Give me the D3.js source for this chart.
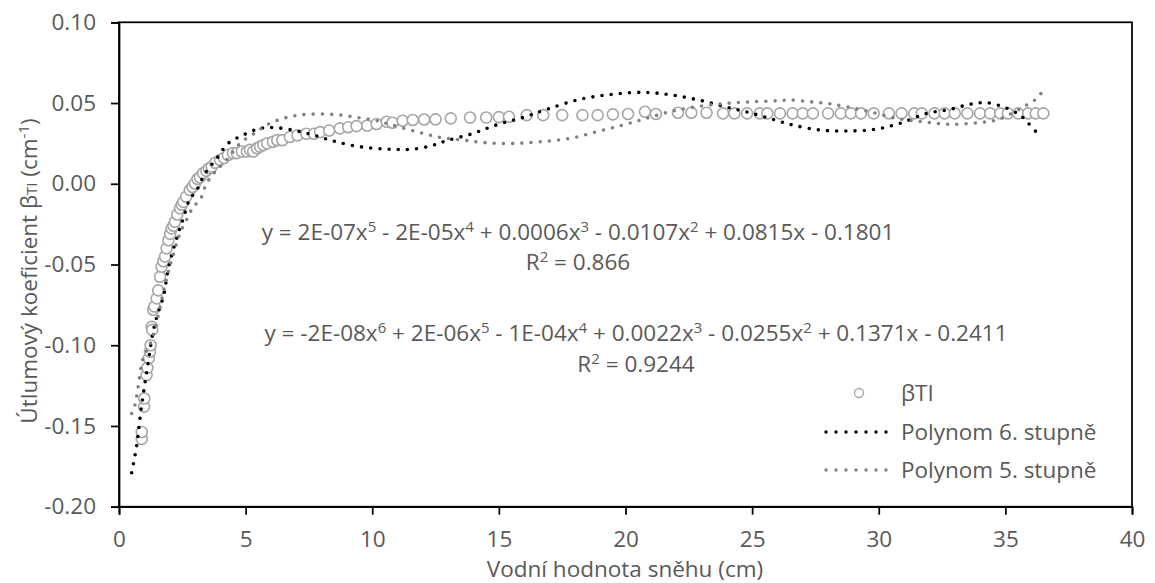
<!DOCTYPE html>
<html>
<head>
<meta charset="utf-8">
<script src="https://cdn.jsdelivr.net/npm/d3@7"></script>
<style>
  body { margin: 0; background: #fff; }
  svg text { font-family: "Open Sans", Lato, sans-serif; fill: #595959; }
</style>
</head>
<body>
<svg id="chart" width="1155" height="583"></svg>
<script>
// measured data (betaTI vs snow water equivalent)
const snowX = [0.90,0.90,0.99,1.00,1.09,1.12,1.18,1.22,1.25,1.29,1.31,1.35,1.40,1.49,1.55,1.62,1.68,1.75,1.82,1.88,1.95,2.02,2.08,2.15,2.21,2.30,2.41,2.48,2.54,2.65,2.80,2.90,3.00,3.10,3.20,3.32,3.45,3.55,3.66,3.80,3.99,4.15,4.30,4.50,4.65,4.85,5.05,5.17,5.30,5.45,5.57,5.70,5.85,6.08,6.25,6.45,6.75,7.05,7.40,7.70,7.94,8.30,8.72,9.05,9.38,9.80,10.17,10.57,10.80,11.20,11.60,12.05,12.50,13.10,13.86,14.50,15.00,15.40,16.10,16.75,17.50,18.30,18.90,19.50,20.10,20.77,21.20,22.07,22.60,23.20,23.85,24.30,24.80,25.30,25.60,26.10,26.60,27.00,27.40,28.00,28.50,28.90,29.30,29.80,30.40,30.90,31.40,31.70,32.20,32.60,33.00,33.50,34.00,34.40,34.80,35.10,35.50,35.90,36.20,36.50];
const betaTI = [-0.158,-0.1537,-0.138,-0.133,-0.1185,-0.114,-0.108,-0.104,-0.100,-0.0886,-0.0905,-0.078,-0.076,-0.071,-0.066,-0.0576,-0.0514,-0.048,-0.045,-0.040,-0.035,-0.031,-0.0276,-0.026,-0.0235,-0.019,-0.0152,-0.013,-0.0112,-0.008,-0.0039,-0.002,0.0002,0.003,0.004,0.0065,0.008,0.0095,0.0105,0.013,0.0147,0.016,0.0178,0.019,0.019,0.020,0.020,0.021,0.020,0.022,0.023,0.024,0.025,0.026,0.027,0.027,0.029,0.030,0.031,0.031,0.032,0.033,0.0343,0.035,0.0357,0.036,0.037,0.0384,0.0378,0.039,0.0395,0.0398,0.0399,0.0405,0.041,0.041,0.0413,0.0415,0.0425,0.0425,0.0425,0.0425,0.0425,0.043,0.0432,0.0446,0.0432,0.044,0.044,0.044,0.0436,0.0436,0.0436,0.0436,0.0436,0.0436,0.0436,0.0436,0.0436,0.0436,0.0436,0.0436,0.0436,0.0436,0.0436,0.0436,0.0436,0.0436,0.0436,0.0436,0.0436,0.0436,0.0436,0.0436,0.0436,0.0436,0.0436,0.0436,0.0436,0.0436];

// trendline: polynom 6. stupne
const poly6X = [0.5,0.7,0.83,0.99,1.16,1.33,1.51,1.75,1.95,2.14,2.34,2.54,2.78,3.07,3.4,3.86,4.31,4.91,5.57,6.22,7.01,7.67,8.33,9.12,10.04,10.83,11.5,12.28,12.94,13.99,14.9,15.96,16.88,18.2,19.5,20.77,21.8,22.88,23.93,24.9,25.9,26.6,27.67,28.72,29.85,30.83,31.9,32.8,33.6,34.25,34.97,35.57,35.83,36.33];
const poly6Y = [-0.179,-0.162,-0.145,-0.127,-0.110,-0.093,-0.0814,-0.070,-0.0524,-0.041,-0.0307,-0.0214,-0.010,-0.0039,0.0064,0.0157,0.025,0.0302,0.0343,0.0347,0.0327,0.0302,0.0271,0.024,0.022,0.0213,0.0213,0.0233,0.0267,0.0312,0.0364,0.0411,0.046,0.0523,0.0554,0.0566,0.055,0.0519,0.0477,0.044,0.0395,0.0364,0.0333,0.0327,0.0337,0.0374,0.0436,0.046,0.0492,0.0502,0.0473,0.0426,0.0388,0.030];

// trendline: polynom 5. stupne
const poly5X = [0.5,0.63,0.76,0.94,1.29,1.88,2.08,2.41,2.73,2.93,3.2,3.46,3.79,4.25,4.78,5.44,5.83,6.49,7.15,7.94,8.72,9.38,10.04,10.7,11.75,12.67,13.6,14.5,15.56,16.6,17.8,18.86,19.9,20.83,21.75,22.8,23.99,25.0,25.96,26.5,27.28,27.94,28.72,29.65,30.7,31.75,32.8,33.92,34.65,35.3,35.83,36.2,36.43];
const poly5Y = [-0.1423,-0.137,-0.1253,-0.1088,-0.0968,-0.0586,-0.0473,-0.0307,-0.0204,-0.0143,-0.010,0.0002,0.0074,0.0147,0.025,0.0322,0.0364,0.0405,0.0426,0.0432,0.0426,0.0411,0.0395,0.0368,0.0322,0.0288,0.027,0.0254,0.025,0.026,0.0281,0.0322,0.0364,0.0405,0.0446,0.0477,0.0498,0.0508,0.0514,0.0519,0.0508,0.0498,0.0477,0.0446,0.0405,0.0384,0.0368,0.0378,0.0395,0.044,0.0487,0.0523,0.0564];

const xTicks = [0,5,10,15,20,25,30,35,40];
const yTicks = [-0.20,-0.15,-0.10,-0.05,0.00,0.05,0.10];
const legendLabels = ["βTI","Polynom 6. stupně","Polynom 5. stupně"];

const svg = d3.select("#chart");
const plot = { left: 119, right: 1132, top: 22.3, bottom: 506.7 };
const fs = 22.5;
const sup = 15;

const x = d3.scaleLinear().domain([0, 40]).range([plot.left, plot.right]);
const y = d3.scaleLinear().domain([-0.20, 0.10]).range([plot.bottom, plot.top]);

// frame
svg.append("rect")
  .attr("x", plot.left).attr("y", plot.top)
  .attr("width", plot.right - plot.left).attr("height", plot.bottom - plot.top)
  .attr("fill", "none").attr("stroke", "#000").attr("stroke-width", 1.75);

// axes (hyphen minus like Excel)
const fmtY = (d) => d3.format(".2f")(d).replace("−", "-");
const yAxis = svg.append("g")
  .attr("transform", `translate(${plot.left},0)`)
  .call(d3.axisLeft(y).tickValues(yTicks).tickFormat(fmtY).tickSize(8).tickPadding(15));
const xAxis = svg.append("g")
  .attr("transform", `translate(0,${plot.bottom})`)
  .call(d3.axisBottom(x).tickValues(xTicks).tickFormat(d3.format("d")).tickSize(8).tickPadding(16));
[xAxis, yAxis].forEach((a) => {
  a.select(".domain").attr("stroke", "#000").attr("stroke-width", 1.75);
  a.selectAll(".tick line").attr("stroke", "#000").attr("stroke-width", 1.75);
  a.selectAll(".tick text").style("font-size", fs + "px").attr("fill", "#595959")
    .style("font-family", "'Open Sans', Lato, sans-serif");
});

// scatter points
const pts = d3.range(snowX.length).map((i) => [snowX[i], betaTI[i]]);
svg.append("g").selectAll("circle")
  .data(pts)
  .join("circle")
  .attr("cx", (d) => x(d[0]))
  .attr("cy", (d) => y(d[1]))
  .attr("r", 5.5)
  .attr("fill", "#fff")
  .attr("stroke", "#a6a6a6")
  .attr("stroke-width", 1.6);

// trendlines
const line = d3.line().x((d) => x(d[0])).y((d) => y(d[1])).curve(d3.curveCatmullRom);
function trend(xs, ys, color) {
  svg.append("path")
    .datum(xs.map((v, i) => [v, ys[i]]))
    .attr("d", line)
    .attr("fill", "none")
    .attr("stroke", color)
    .attr("stroke-width", 3.6)
    .attr("stroke-linecap", "round")
    .attr("stroke-dasharray", "0 9.2");
}
trend(poly6X, poly6Y, "#000");
trend(poly5X, poly5Y, "#808080");

// text with superscripts: arrays in parts are superscripts
function richText(t, parts) {
  let raised = false;
  parts.forEach((p) => {
    if (Array.isArray(p)) {
      t.append("tspan").attr("dy", raised ? 0 : -8).style("font-size", sup + "px").text(p[0]);
      raised = true;
    } else {
      t.append("tspan").attr("dy", raised ? 8 : 0).text(p);
      raised = false;
    }
  });
}
function eq(cx, cy, parts) {
  const t = svg.append("text").attr("x", cx).attr("y", cy)
    .attr("text-anchor", "middle").style("font-size", fs + "px");
  richText(t, parts);
}
eq(578, 239.5, ["y = 2E-07x", ["5"], " - 2E-05x", ["4"], " + 0.0006x", ["3"], " - 0.0107x", ["2"], " + 0.0815x - 0.1801"]);
eq(578, 270, ["R", ["2"], " = 0.866"]);
eq(636, 341, ["y = -2E-08x", ["6"], " + 2E-06x", ["5"], " - 1E-04x", ["4"], " + 0.0022x", ["3"], " - 0.0255x", ["2"], " + 0.1371x - 0.2411"]);
eq(636, 371.5, ["R", ["2"], " = 0.9244"]);

// legend
const lg = svg.append("g");
lg.append("circle").attr("cx", 859).attr("cy", 393).attr("r", 4.5)
  .attr("fill", "#fff").attr("stroke", "#a6a6a6").attr("stroke-width", 1.3);
const legendColors = ["#000", "#808080"];
[432, 470].forEach((ly, i) => {
  lg.append("line").attr("x1", 826).attr("x2", 888).attr("y1", ly).attr("y2", ly)
    .attr("stroke", legendColors[i]).attr("stroke-width", 3.4)
    .attr("stroke-linecap", "round").attr("stroke-dasharray", "0 10");
});
[393, 432, 470].forEach((ly, i) => {
  lg.append("text").attr("x", 901).attr("y", ly + 8).style("font-size", fs + "px").text(legendLabels[i]);
});

// axis titles
svg.append("text")
  .attr("x", 625).attr("y", 577).attr("text-anchor", "middle").style("font-size", fs + "px")
  .text("Vodní hodnota sněhu (cm)");
const yt = svg.append("text")
  .attr("transform", "translate(37,271) rotate(-90)")
  .attr("text-anchor", "middle").style("font-size", fs + "px");
yt.append("tspan").text("Útlumový koeficient β");
yt.append("tspan").style("font-size", sup + "px").text("TI");
richText(yt, [" (cm", ["-1"], ")"]);
</script>
</body>
</html>
